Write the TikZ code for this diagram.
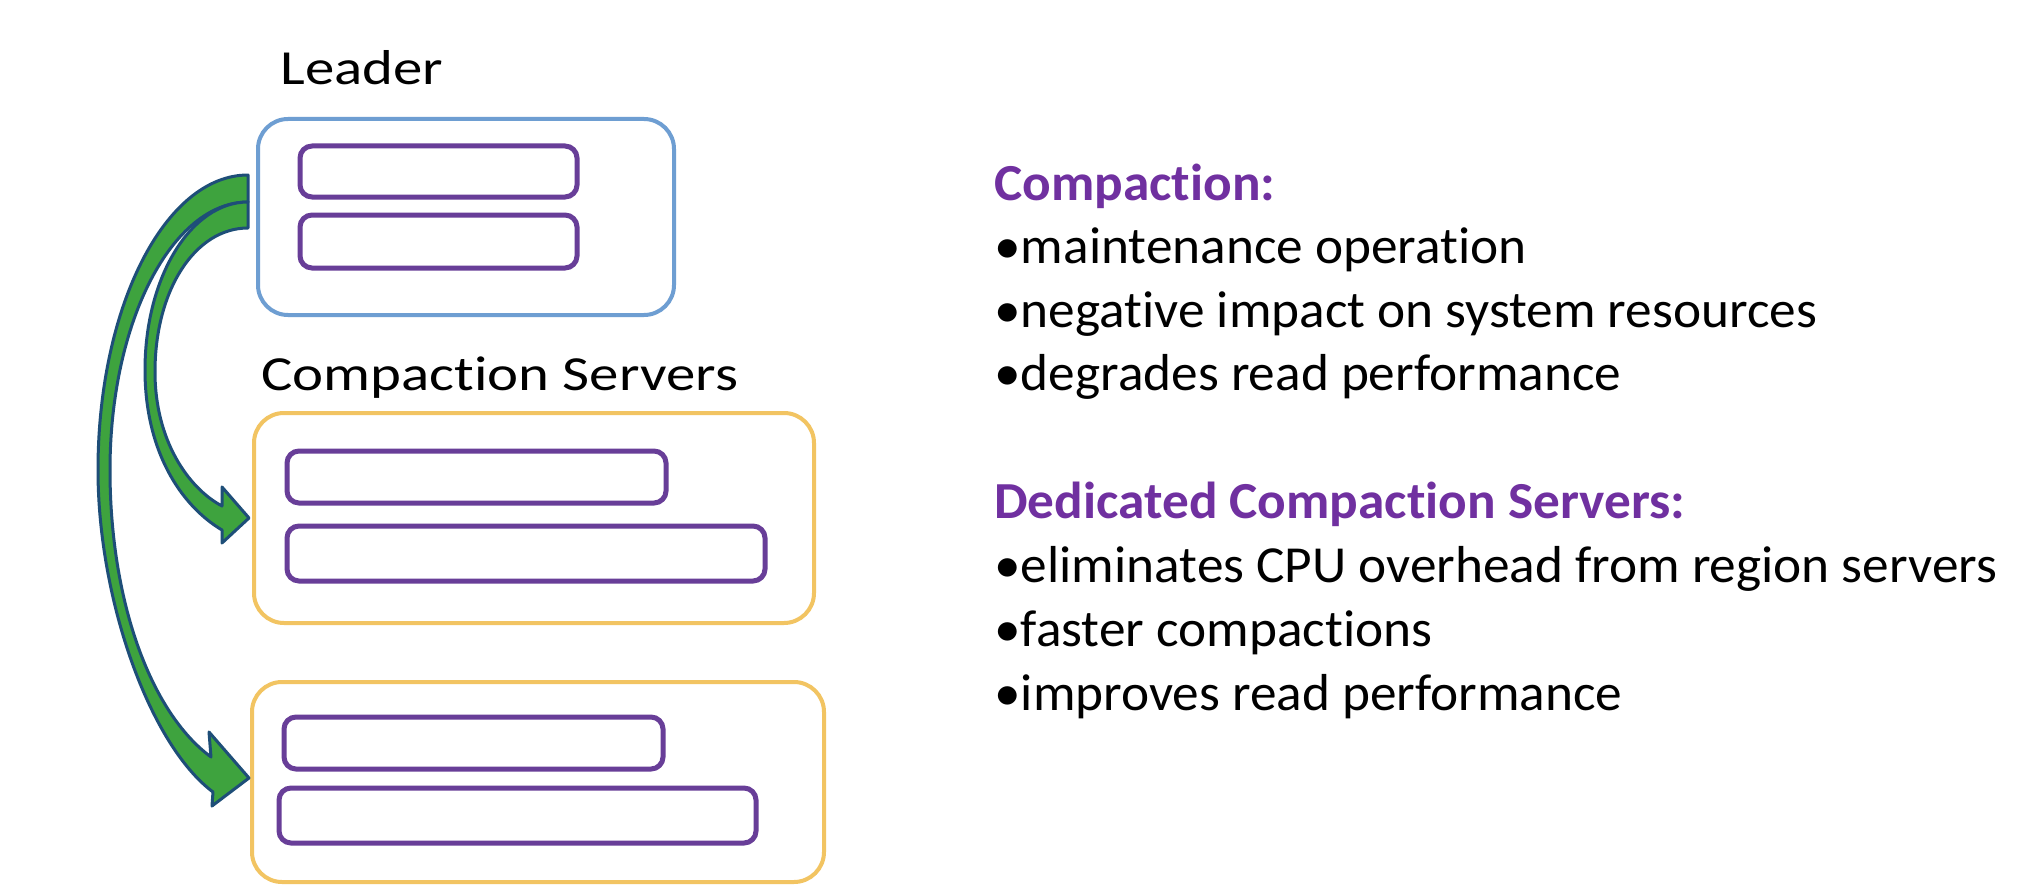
\documentclass[tikz,border=0pt]{standalone}
\usepackage{fontspec}
\setmainfont{Carlito}[Ligatures=NoCommon, FakeStretch=1.025]
\newfontfamily\widefont{Carlito}[Ligatures=NoCommon, FakeStretch=1.2]
\usetikzlibrary{calc}

\definecolor{leaderblue}{RGB}{110,158,210}
\definecolor{servergold}{RGB}{242,196,98}
\definecolor{slotpurple}{RGB}{104,62,152}
\definecolor{headpurple}{RGB}{112,48,160}
\definecolor{arrowgreen}{RGB}{62,163,62}
\definecolor{arrowedge}{RGB}{30,78,120}

\begin{document}
\begin{tikzpicture}[x=0.5pt,y=-0.5pt,
  hostbox/.style={draw, line width=2pt, rounded corners=15pt, inner sep=0pt},
  slot/.style={draw=slotpurple, line width=2.5pt, rounded corners=6pt, inner sep=0pt},
  caption/.style={anchor=base west, inner sep=0pt, font=\widefont\fontsize{24.5}{29}\selectfont},
  heading/.style={anchor=base west, inner sep=0pt, text=headpurple, font=\bfseries\fontsize{26}{31}\selectfont},
  point/.style={anchor=base west, inner sep=0pt, font=\fontsize{26}{31}\selectfont},
  blockarrow/.style={fill=arrowgreen, draw=arrowedge, line width=1.5pt, line join=round}
]
\fill[white] (0,0) rectangle (2030,888);
\useasboundingbox (0,0) rectangle (2030,888);

% captions of the two groups
\node[caption] (leadercap) at (280,85) {Leader};
\node[caption] (servercap) at (261,390) {Compaction Servers};

% leader host with its two slots
\node[hostbox, draw=leaderblue, minimum width=208pt, minimum height=98pt] (leader) at (466,217) {};
\node[slot, minimum width=138.5pt, minimum height=25.5pt] (l1) at (438.5,171.5) {};
\node[slot, minimum width=138.5pt, minimum height=26.5pt] (l2) at (438.5,241.5) {};

% first compaction server
\node[hostbox, draw=servergold, minimum width=280pt, minimum height=105pt] (cs1) at (534,518) {};
\node[slot, minimum width=189.5pt, minimum height=26pt] (c1a) at (476.5,477) {};
\node[slot, minimum width=239pt, minimum height=27.5pt] (c1b) at (526,553.5) {};

% second compaction server
\node[hostbox, draw=servergold, minimum width=286pt, minimum height=100pt] (cs2) at (538,782) {};
\node[slot, minimum width=189.5pt, minimum height=26pt] (c2a) at (473.5,743) {};
\node[slot, minimum width=238.5pt, minimum height=27.5pt] (c2b) at (517.5,815.5) {};

% arrow tips sit just left of the server boxes
\coordinate (t1) at ([xshift=-1.5pt]cs1.west);
\coordinate (t2) at ([xshift=-0.5pt,yshift=2pt]cs2.west);

% outer curved block arrow: leader -> second server
\draw[blockarrow] (248,175) .. controls (165,175) and (98,307) .. (98,470)
  .. controls (98,600) and (150,745) .. (213,792)
  -- (212,806) -- (t2) -- (209,732) -- (211,757)
  .. controls (150,712) and (110,600) .. (110,470)
  .. controls (110,322) and (172,202) .. (248,202) -- cycle;

% inner curved block arrow: leader -> first server
\draw[blockarrow] (248,202) .. controls (191,202) and (145,277) .. (145,370)
  .. controls (145,450) and (180,505) .. (222,530)
  -- (222,543) -- (t1) -- (222,487) -- (222,506)
  .. controls (188,488) and (155,440) .. (155,372)
  .. controls (155,290) and (195,228) .. (248,228) -- cycle;

% notes on the right
\node[heading] (h1) at (994,200) {Compaction:};
\node[point] (p1) at (994,263) {•maintenance operation};
\node[point] (p2) at (994,327) {•negative impact on system resources};
\node[point] (p3) at (994,390) {•degrades read performance};
\node[heading] (h2) at (994,518) {Dedicated Compaction Servers:};
\node[point] (p4) at (994,582) {•eliminates CPU overhead from region servers};
\node[point] (p5) at (994,646) {•faster compactions};
\node[point] (p6) at (994,710) {•improves read performance};
\end{tikzpicture}
\end{document}
